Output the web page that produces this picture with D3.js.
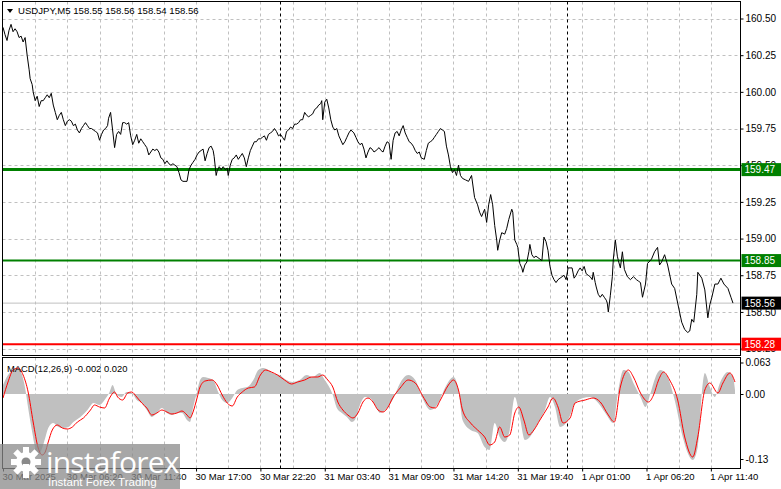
<!DOCTYPE html>
<html><head><meta charset="utf-8">
<script src="https://cdn.jsdelivr.net/npm/d3@7"></script>
<style>
html,body{margin:0;padding:0;background:#fff;}
svg{display:block;font-family:"Liberation Sans",Arial,sans-serif;}
</style></head>
<body><svg id="c" width="781" height="489"></svg>
<script>
// ---------- DATA ----------
const symbolTitle = "USDJPY,M5  158.55 158.56 158.54 158.56";
const macdTitle = "MACD(12,26,9) -0.002 0.020";
const timeTickBars = [0,64,128,192,256,320,384,448,512,576,640,704];
const timeTickLabels = ["30 Mar 2025","30 Mar 06:20","30 Mar 11:40","30 Mar 17:00","30 Mar 22:20","31 Mar 03:40","31 Mar 09:00","31 Mar 14:20","31 Mar 19:40","1 Apr 01:00","1 Apr 06:20","1 Apr 11:40"];
const daySeparatorBars = [275, 561];
const priceTicks = [160.50,160.25,160.00,159.75,159.50,159.25,159.00,158.75,158.50,158.25];
const macdTicks = [0.063, 0, -0.13];
const macdTickLabels = ["0.063","0.00","-0.13"];
const levelGreenHigh = 159.47;
const levelGreenLow = 158.85;
const levelRed = 158.28;
const bidPrice = 158.56;

// close prices: [bar index, price]
const closeSeries = [
[0,160.44],[2,160.39],[4,160.35],[6,160.42],[8,160.46],[10,160.41],[12,160.43],[14,160.41],[16,160.37],[18,160.38],
[20,160.34],[22,160.37],[24,160.25],[26,160.15],[27,160.09],[29,160.05],[30,160.00],[32,159.94],[34,159.97],[36,159.90],
[38,159.94],[40,159.94],[42,159.96],[44,159.98],[46,159.96],[48,159.99],[50,159.91],[52,159.86],[54,159.81],[56,159.84],
[58,159.86],[60,159.81],[62,159.77],[64,159.80],[66,159.81],[68,159.80],[70,159.77],[72,159.78],[74,159.74],[76,159.72],
[78,159.75],[80,159.77],[82,159.79],[84,159.77],[86,159.75],[88,159.75],[90,159.74],[92,159.73],[94,159.72],[96,159.67],
[98,159.71],[100,159.74],[102,159.75],[104,159.77],[105,159.82],[107,159.86],[109,159.74],[111,159.62],[113,159.71],[115,159.73],
[117,159.71],[119,159.79],[121,159.79],[123,159.78],[125,159.79],[127,159.70],[129,159.64],[131,159.67],[133,159.71],[135,159.65],
[137,159.68],[139,159.66],[141,159.64],[143,159.62],[145,159.57],[147,159.59],[149,159.61],[151,159.60],[153,159.61],[155,159.59],
[157,159.55],[159,159.54],[161,159.51],[163,159.53],[165,159.51],[167,159.50],[169,159.51],[171,159.50],[173,159.49],[175,159.45],
[177,159.40],[179,159.39],[181,159.39],[183,159.39],[185,159.47],[187,159.50],[189,159.52],[191,159.54],[193,159.57],[195,159.59],
[197,159.60],[199,159.61],[201,159.53],[203,159.58],[205,159.62],[207,159.63],[209,159.60],[210,159.56],[212,159.43],[213,159.46],
[215,159.49],[217,159.47],[219,159.49],[221,159.47],[223,159.48],[224,159.43],[226,159.50],[228,159.54],[230,159.55],[232,159.57],
[234,159.54],[236,159.56],[238,159.58],[240,159.55],[242,159.49],[244,159.55],[246,159.60],[248,159.63],[250,159.66],[252,159.66],
[254,159.68],[256,159.68],[258,159.69],[260,159.70],[262,159.67],[264,159.71],[266,159.72],[268,159.73],[270,159.75],[272,159.73],
[274,159.70],[276,159.71],[278,159.69],[280,159.67],[282,159.73],[284,159.74],[286,159.76],[288,159.75],[290,159.78],[292,159.78],
[294,159.79],[296,159.81],[298,159.81],[300,159.86],[302,159.84],[304,159.83],[306,159.84],[308,159.85],[310,159.88],[312,159.89],
[314,159.91],[316,159.92],[317,159.94],[318,159.81],[320,159.93],[322,159.95],[324,159.89],[326,159.81],[328,159.76],[330,159.74],
[332,159.75],[334,159.70],[336,159.67],[338,159.64],[340,159.66],[342,159.69],[344,159.72],[346,159.74],[349,159.72],[351,159.69],
[353,159.66],[355,159.64],[357,159.65],[359,159.61],[361,159.55],[363,159.59],[365,159.62],[367,159.61],[369,159.59],[371,159.60],
[374,159.62],[376,159.60],[378,159.59],[380,159.63],[382,159.66],[384,159.65],[386,159.54],[388,159.67],[390,159.72],[392,159.73],
[394,159.70],[396,159.74],[398,159.77],[400,159.72],[402,159.69],[404,159.66],[406,159.65],[408,159.63],[410,159.60],[412,159.58],
[414,159.59],[416,159.55],[419,159.54],[421,159.60],[423,159.65],[425,159.66],[427,159.67],[429,159.69],[431,159.71],[433,159.73],
[435,159.75],[437,159.74],[439,159.73],[441,159.63],[443,159.57],[445,159.49],[447,159.45],[449,159.47],[451,159.43],[453,159.50],
[455,159.43],[457,159.41],[460,159.40],[463,159.39],[466,159.43],[469,159.28],[472,159.23],[474,159.18],[476,159.15],[479,159.20],
[481,159.11],[483,159.23],[485,159.30],[487,159.23],[489,159.09],[491,158.99],[492,158.92],[494,158.99],[496,159.04],[499,159.03],
[501,159.07],[503,159.13],[506,159.20],[507,159.18],[509,158.99],[511,158.96],[512,158.94],[514,158.83],[516,158.80],[517,158.77],
[519,158.82],[521,158.84],[523,158.91],[524,158.96],[526,158.89],[528,158.87],[530,158.88],[532,158.87],[534,158.86],[536,158.85],
[538,159.01],[540,158.98],[542,158.92],[544,158.81],[546,158.75],[548,158.72],[550,158.70],[552,158.72],[554,158.73],[556,158.74],
[558,158.75],[560,158.72],[562,158.80],[564,158.80],[566,158.80],[568,158.73],[570,158.75],[572,158.78],[574,158.80],[576,158.78],
[578,158.81],[580,158.76],[582,158.75],[584,158.74],[586,158.72],[587,158.77],[589,158.70],[590,158.67],[592,158.62],[594,158.60],
[596,158.62],[598,158.60],[600,158.58],[601,158.56],[602,158.50],[604,158.61],[606,158.74],[607,158.86],[609,158.99],[611,158.88],
[612,158.85],[614,158.80],[616,158.91],[618,158.79],[621,158.74],[624,158.72],[627,158.74],[630,158.72],[632,158.71],[634,158.70],
[636,158.60],[639,158.69],[641,158.83],[645,158.86],[648,158.91],[651,158.94],[653,158.82],[655,158.84],[658,158.89],[661,158.82],
[665,158.69],[668,158.66],[671,158.56],[675,158.43],[678,158.38],[681,158.36],[683,158.37],[685,158.45],[687,158.43],[690,158.62],
[691,158.77],[693,158.75],[695,158.73],[698,158.65],[701,158.46],[703,158.55],[705,158.60],[708,158.69],[711,158.69],[714,158.73],
[717,158.69],[721,158.66],[724,158.60],[726,158.56]
];

// MACD main (histogram): [bar, value]
const macdMain = [
[0,0.018],[5,0.038],[10,0.048],[15,0.052],[19,0.038],[22,0.012],[25,-0.028],[29,-0.076],[32,-0.108],[35,-0.122],
[39,-0.108],[42,-0.088],[45,-0.068],[50,-0.058],[55,-0.066],[60,-0.068],[65,-0.066],[70,-0.056],[77,-0.046],[84,-0.032],
[90,-0.018],[96,-0.022],[101,-0.012],[106,0.004],[109,0.018],[113,-0.002],[118,-0.006],[123,0.004],[128,0.002],[133,-0.012],
[138,-0.018],[143,-0.032],[148,-0.046],[153,-0.038],[158,-0.028],[163,-0.038],[168,-0.042],[173,-0.038],[178,-0.038],[183,-0.052],
[186,-0.056],[189,-0.028],[193,0.004],[196,0.028],[199,0.034],[204,0.032],[209,0.028],[214,0.004],[218,-0.012],[223,-0.018],
[228,-0.008],[233,0.008],[238,0.012],[243,0.014],[249,0.028],[254,0.048],[259,0.052],[264,0.048],[268,0.042],[275,0.038],
[282,0.028],[288,0.024],[295,0.028],[302,0.038],[308,0.034],[315,0.042],[320,0.028],[325,0.012],[328,-0.002],[332,-0.028],
[337,-0.038],[342,-0.046],[347,-0.056],[350,-0.052],[355,-0.022],[360,-0.006],[365,-0.008],[370,-0.022],[375,-0.038],[382,-0.028],
[388,-0.010],[395,0.022],[403,0.038],[410,0.028],[418,-0.012],[425,-0.032],[433,-0.018],[440,0.014],[448,0.034],[453,0.008],
[457,-0.052],[465,-0.072],[472,-0.078],[479,-0.106],[484,-0.112],[489,-0.058],[494,-0.086],[499,-0.096],[504,-0.072],[509,-0.006],
[514,-0.046],[519,-0.092],[524,-0.086],[532,-0.058],[539,-0.032],[544,-0.006],[549,-0.026],[554,-0.066],[562,-0.052],[569,-0.018],
[577,-0.008],[584,-0.006],[592,-0.018],[599,-0.038],[607,-0.058],[612,0.008],[617,0.048],[622,0.044],[627,0.022],[634,-0.006],
[639,-0.026],[644,0.002],[649,0.034],[654,0.048],[661,0.034],[668,-0.012],[676,-0.086],[681,-0.118],[686,-0.132],[691,-0.106],
[696,0.022],[698,0.042],[703,0.014],[708,-0.006],[713,0.022],[721,0.044],[726,0.034],[728,0.008]
];

// MACD signal (red): [bar, value]
const macdSignal = [
[0,-0.008],[5,0.024],[10,0.048],[15,0.052],[20,0.038],[25,0.004],[30,-0.056],[35,-0.108],[39,-0.122],[42,-0.116],
[45,-0.096],[49,-0.072],[54,-0.062],[59,-0.068],[64,-0.070],[69,-0.066],[74,-0.056],[80,-0.048],[87,-0.032],[91,-0.022],
[96,-0.026],[101,-0.028],[106,-0.008],[111,0.004],[114,-0.006],[119,-0.012],[124,0.002],[128,0.004],[133,-0.006],[138,-0.018],
[143,-0.028],[148,-0.042],[153,-0.038],[158,-0.032],[163,-0.036],[168,-0.040],[173,-0.038],[178,-0.034],[183,-0.042],[186,-0.048],
[189,-0.036],[193,-0.008],[196,0.014],[201,0.026],[208,0.028],[213,0.018],[218,-0.002],[223,-0.018],[228,-0.024],[233,-0.006],
[238,0.004],[244,0.012],[250,0.014],[256,0.038],[261,0.048],[267,0.044],[273,0.038],[280,0.028],[287,0.020],[293,0.024],
[300,0.028],[307,0.034],[313,0.034],[318,0.038],[323,0.028],[328,0.014],[333,-0.016],[338,-0.032],[343,-0.042],[348,-0.048],
[353,-0.038],[358,-0.016],[363,-0.008],[368,-0.016],[373,-0.032],[378,-0.036],[383,-0.026],[387,-0.010],[395,0.012],[403,0.028],
[410,0.022],[418,-0.006],[425,-0.026],[430,-0.028],[435,-0.012],[443,0.018],[448,0.028],[453,0.008],[457,-0.032],[465,-0.058],
[472,-0.072],[479,-0.086],[484,-0.102],[489,-0.096],[494,-0.066],[499,-0.086],[504,-0.082],[509,-0.038],[513,-0.026],[518,-0.052],
[523,-0.082],[528,-0.072],[534,-0.052],[542,-0.026],[547,-0.008],[552,-0.026],[557,-0.058],[564,-0.048],[569,-0.018],[579,-0.012],
[587,-0.008],[594,-0.016],[602,-0.042],[608,-0.056],[614,0.014],[622,0.048],[627,0.034],[634,0.002],[642,-0.016],[647,-0.002],
[652,0.028],[657,0.044],[663,0.028],[671,-0.012],[678,-0.086],[686,-0.126],[691,-0.086],[698,0.008],[703,0.022],[711,0.002],
[716,0.022],[723,0.042],[728,0.024]
];

// ---------- LAYOUT ----------
const svg = d3.select("#c");
const plotL = 2.5, plotR = 740.5;
const mainT = 1.5, mainB = 355.5;
const subT = 357.5, subB = 468.5;

const x = d3.scaleLinear().domain([0, 730]).range([3, 737]);
const y = d3.scaleLinear().domain([158.25, 160.50]).range([348.6, 18.5]);
const ym = d3.scaleLinear().domain([-0.13, 0.063]).range([459, 362.5]);

const gridColor = "#c0c0c0";
const FONT = "'Liberation Sans',Arial,sans-serif";

const defs = svg.append("defs");
defs.append("clipPath").attr("id","clipMain").append("rect")
  .attr("x",plotL).attr("y",mainT).attr("width",plotR-plotL).attr("height",mainB-mainT);
defs.append("clipPath").attr("id","clipSub").append("rect")
  .attr("x",plotL).attr("y",subT).attr("width",plotR-plotL).attr("height",subB-subT);

// vertical grid (every 32 bars)
const vGridBars = d3.range(32, 730, 32);
[[mainT,mainB],[subT,subB]].forEach(([t,b])=>{
  svg.append("g").selectAll("line").data(vGridBars).join("line")
    .attr("x1",d=>Math.round(x(d))+0.5).attr("x2",d=>Math.round(x(d))+0.5)
    .attr("y1",t).attr("y2",b)
    .attr("stroke",gridColor).attr("stroke-width",1).attr("stroke-dasharray","3,3");
});
// horizontal grid in main panel
svg.append("g").selectAll("line").data(priceTicks).join("line")
  .attr("x1",plotL).attr("x2",plotR)
  .attr("y1",d=>Math.round(y(d))+0.5).attr("y2",d=>Math.round(y(d))+0.5)
  .attr("stroke",gridColor).attr("stroke-dasharray","3,3");

// day separators
[[mainT,mainB],[subT,subB]].forEach(([t,b])=>{
  svg.append("g").selectAll("line").data(daySeparatorBars).join("line")
    .attr("x1",d=>Math.round(x(d))+0.5).attr("x2",d=>Math.round(x(d))+0.5)
    .attr("y1",t).attr("y2",b)
    .attr("stroke","#000").attr("stroke-dasharray","3,3");
});

// level lines
const gMain = svg.append("g").attr("clip-path","url(#clipMain)");
gMain.append("line").attr("x1",plotL).attr("x2",plotR)
  .attr("y1",y(bidPrice)).attr("y2",y(bidPrice)).attr("stroke","#c0c0c0").attr("stroke-width",1);
gMain.append("line").attr("x1",plotL).attr("x2",plotR)
  .attr("y1",y(levelGreenHigh)).attr("y2",y(levelGreenHigh)).attr("stroke","#008000").attr("stroke-width",3);
gMain.append("line").attr("x1",plotL).attr("x2",plotR)
  .attr("y1",y(levelGreenLow)).attr("y2",y(levelGreenLow)).attr("stroke","#008000").attr("stroke-width",2);
gMain.append("line").attr("x1",plotL).attr("x2",plotR)
  .attr("y1",y(levelRed)).attr("y2",y(levelRed)).attr("stroke","#ff0000").attr("stroke-width",2);

// price line
gMain.append("path").datum(closeSeries)
  .attr("d", d3.line().x(d=>x(d[0])).y(d=>y(d[1])))
  .attr("fill","none").attr("stroke","#000").attr("stroke-width",1);

// MACD
const gSub = svg.append("g").attr("clip-path","url(#clipSub)");
gSub.append("path").datum(macdMain)
  .attr("d", d3.area().x(d=>x(d[0])).y0(ym(0)).y1(d=>ym(d[1])).curve(d3.curveMonotoneX))
  .attr("fill","#c0c0c0");
gSub.append("path").datum(macdSignal)
  .attr("d", d3.line().x(d=>x(d[0])).y(d=>ym(d[1])).curve(d3.curveMonotoneX))
  .attr("fill","none").attr("stroke","#ff0000").attr("stroke-width",1);

// panel borders
svg.append("rect").attr("x",plotL).attr("y",mainT).attr("width",plotR-plotL).attr("height",mainB-mainT)
  .attr("fill","none").attr("stroke","#000");
svg.append("rect").attr("x",plotL).attr("y",subT).attr("width",plotR-plotL).attr("height",subB-subT)
  .attr("fill","none").attr("stroke","#000");

// price axis (labels hidden by a level box are omitted from the overlap, as in the reference they sit under the boxes)
const yAxis = d3.axisRight(y).tickValues(priceTicks).tickFormat(d3.format(".2f")).tickSize(3).tickPadding(2);
const gy = svg.append("g").attr("transform",`translate(${plotR},0)`).call(yAxis);
gy.select(".domain").remove();
gy.selectAll("text").attr("font-size",10).attr("fill","#000").style("font-family",FONT);
gy.selectAll("line").attr("stroke","#000");

// macd axis
const ymAxis = d3.axisRight(ym).tickValues(macdTicks).tickFormat((d,i)=>macdTickLabels[i]).tickSize(3).tickPadding(2);
const gym = svg.append("g").attr("transform",`translate(${plotR},0)`).call(ymAxis);
gym.select(".domain").remove();
gym.selectAll("text").attr("font-size",10).attr("fill","#000").style("font-family",FONT);
gym.selectAll("line").attr("stroke","#000");

// time axis
const xAxis = d3.axisBottom(x).tickValues(timeTickBars).tickFormat((d,i)=>timeTickLabels[i]).tickSize(3).tickPadding(2);
const gx = svg.append("g").attr("transform",`translate(0,${subB})`).call(xAxis);
gx.select(".domain").remove();
gx.selectAll("text").attr("font-size",9.5).attr("fill","#000").attr("text-anchor","start").attr("dx",-1)
  .style("font-family",FONT);
gx.selectAll("line").attr("stroke","#000");

// level label boxes
function levelBox(val, fill){
  const g = svg.append("g");
  g.append("rect").attr("x",plotR+1).attr("y",y(val)-6.5).attr("width",40).attr("height",13).attr("fill",fill);
  g.append("text").attr("x",plotR+4).attr("y",y(val)).attr("dy","0.35em")
    .attr("font-size",10).attr("fill","#fff").style("font-family",FONT).text(val.toFixed(2));
}
levelBox(levelGreenHigh,"#008000");
levelBox(levelGreenLow,"#008000");
levelBox(bidPrice,"#000");
levelBox(levelRed,"#ff0000");

// titles
svg.append("path").attr("d","M7,9 L13,9 L10,13 Z").attr("fill","#000");
svg.append("text").attr("x",18).attr("y",11).attr("dy","0.35em").attr("font-size",9.6).attr("fill","#000")
  .style("font-family",FONT).text(symbolTitle);
svg.append("text").attr("x",7).attr("y",369).attr("dy","0.35em").attr("font-size",9.4).attr("fill","#000")
  .style("font-family",FONT).text(macdTitle);

// watermark logo
const logo = svg.append("g");
logo.append("rect").attr("x",0).attr("y",444).attr("width",180).attr("height",45).attr("fill","#8a8a8a").attr("opacity",0.75);
const gear = logo.append("g").attr("transform","translate(26,462)");
d3.range(8).forEach(i=>{
  gear.append("rect").attr("x",-3).attr("y",-15).attr("width",6).attr("height",8).attr("fill","#fff")
    .attr("transform",`rotate(${i*45})`);
});
gear.append("circle").attr("r",10).attr("fill","#fff");
gear.append("circle").attr("r",4.5).attr("fill","#8a8a8a");
gear.append("rect").attr("x",-3).attr("y",2).attr("width",6).attr("height",14).attr("fill","#fff");
logo.append("text").attr("x",46).attr("y",473).attr("font-size",30).attr("fill","#fff")
  .style("font-family","'Open Sans',Arial,sans-serif").attr("letter-spacing",-0.8).text("instaforex");
logo.append("text").attr("x",48).attr("y",486).attr("font-size",11.5).attr("fill","#fff")
  .style("font-family",FONT).text("Instant Forex Trading");
</script></body></html>
